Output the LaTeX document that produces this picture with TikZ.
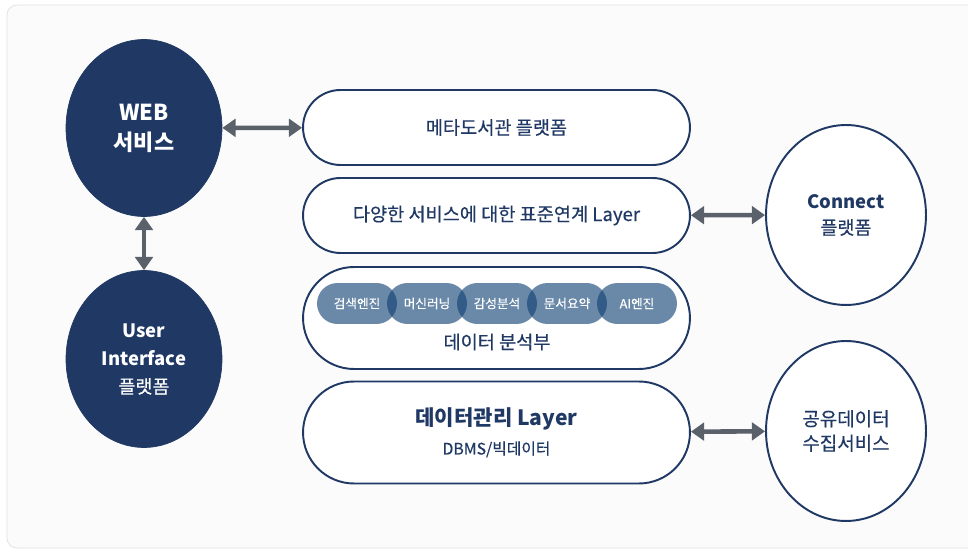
\documentclass[tikz,border=0pt]{standalone}
\usepackage{fontspec}
\setmainfont{Noto Sans CJK KR}[UprightFeatures={FakeBold=0.35}]
\usepackage{xcolor}
\usetikzlibrary{shapes.geometric, shapes.misc, arrows.meta, positioning}
\definecolor{navy}{RGB}{31,56,100}
\definecolor{arrowgray}{RGB}{90,97,106}
\definecolor{pillblue}{RGB}{16,65,115}
\definecolor{bggray}{RGB}{251,251,251}
\tikzstyle{link} = [arrowgray, line width=2.6pt,
{Triangle[length=7.5pt,width=10pt]}-{Triangle[length=7.5pt,width=10pt]}]

\begin{document}
\begin{tikzpicture}[
        x=0.02cm, y=-0.02cm,
        darkcircle/.style={ellipse, fill=navy, draw=navy, text=white, minimum width=3.12cm, minimum height=3.54cm, inner sep=0pt, align=center},
        lightcircle/.style={ellipse, fill=white, draw=navy, line width=1.1pt, text=navy, minimum width=3.2cm, minimum height=3.6cm, inner sep=0pt, align=center},
        layer/.style={rounded rectangle, fill=white, draw=navy, line width=1.1pt, text=navy, minimum width=7.74cm, minimum height=1.5cm, inner sep=0pt, align=center, font=\fontsize{10.6}{12}\selectfont},
        biglayer/.style={layer, minimum height=2.04cm},
        pill/.style={rounded rectangle, fill=pillblue, fill opacity=0.62, text opacity=1, text=white, minimum width=1.6cm, minimum height=0.82cm, inner sep=0pt, font=\fontsize{7.2}{8}\selectfont},
    ]
        \useasboundingbox (0,0) rectangle (968,550);
        \draw[draw=black!12, fill=bggray, rounded corners=0.2cm] (7,5) rectangle (990,548);

        \node[darkcircle, font=\fontsize{12.5}{17}\selectfont\bfseries] (web) at (144,128) {WEB\\서비스};
        \node[darkcircle, font=\fontsize{10.5}{16}\selectfont] (ui) at (144,359) {\textbf{User}\\\textbf{Interface}\\플랫폼};

        \node[layer] (meta) at (496.5,127.5) {메타도서관 플랫폼};
        \node[layer] (std) at (496.5,215.5) {다양한 서비스에 대한 표준연계 Layer};
        \node[biglayer] (ana) at (496.5,318) {};
        \node[biglayer, font=\fontsize{12}{16.5}\selectfont] (dm) at (496.5,432.5) {\textbf{데이터관리 Layer}\\{\fontsize{9}{11}\selectfont DBMS/빅데이터}};

        \node[pill] (p1) at (357,303.5) {검색엔진};
        \node[pill] (p2) at (427,303.5) {머신러닝};
        \node[pill] (p3) at (497,303.5) {감성분석};
        \node[pill] (p4) at (567,303.5) {문서요약};
        \node[pill] (p5) at (637,303.5) {AI엔진};
        \node[text=navy, font=\fontsize{10.6}{12}\selectfont] (analabel) at (497,342) {데이터 분석부};

        \node[lightcircle, font=\fontsize{10.5}{15}\selectfont] (conn) at (846,215) {\textbf{Connect}\\플랫폼};
        \node[lightcircle, font=\fontsize{10.8}{14}\selectfont] (share) at (846,431) {공유데이터\\수집서비스};

        \draw[link] (web) -- (meta);
        \draw[link] (web) -- (ui);
        \draw[link] (std) -- (conn);
        \draw[link] (dm) -- (share);
    \end{tikzpicture}
\end{document}
